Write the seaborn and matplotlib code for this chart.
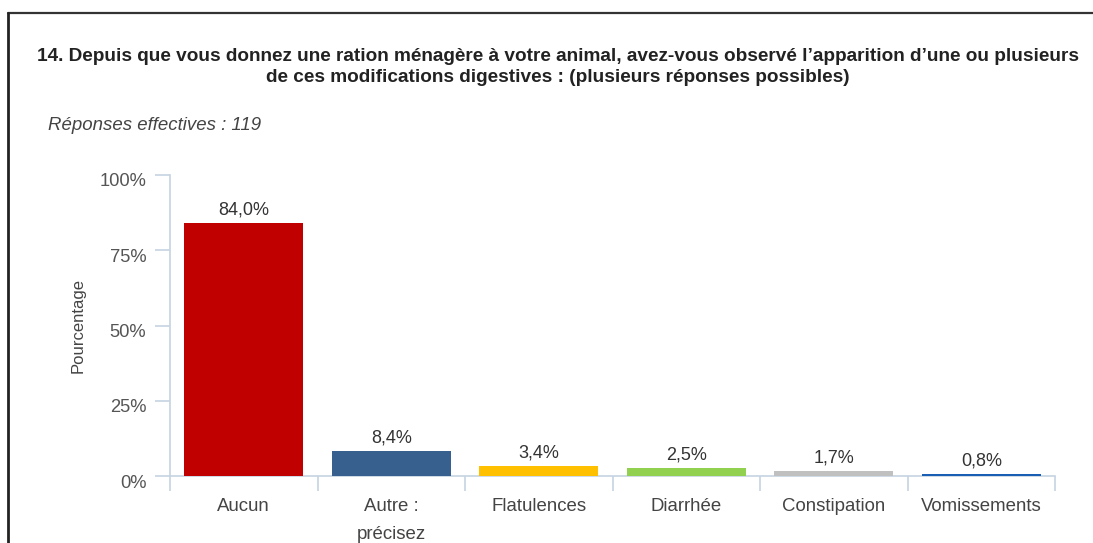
import matplotlib
matplotlib.use("Agg")
import matplotlib.pyplot as plt
from matplotlib.lines import Line2D
from matplotlib.ticker import FixedLocator, FuncFormatter
from matplotlib.transforms import ScaledTranslation
import seaborn as sns
import pandas as pd

categories = ["Aucun", "Autre :\nprécisez", "Flatulences", "Diarrhée", "Constipation", "Vomissements"]
values = [84.0, 8.4, 3.4, 2.5, 1.7, 0.8]
colors = ["#C00000", "#38608F", "#FFC000", "#92D050", "#C0C0C0", "#1A5FB4"]
y_ticks = [0, 25, 50, 75, 100]

title = ("14. Depuis que vous donnez une ration ménagère à votre animal, avez-vous observé l’apparition d’une ou plusieurs\n"
         "de ces modifications digestives : (plusieurs réponses possibles)")
subtitle = "Réponses effectives : 119"

sns.set_theme(style="white")
plt.rcParams["font.family"] = ["Liberation Sans", "DejaVu Sans"]

W, H = 1093, 543
fig = plt.figure(figsize=(W / 100, H / 100), dpi=100)
ax = fig.add_axes([170 / W, 67 / H, 885 / W, 301 / H])

df = pd.DataFrame({"cat": categories, "val": values})
sns.barplot(data=df, x="cat", y="val", hue="cat", palette=colors, legend=False,
            width=0.81, saturation=1, linewidth=0, ax=ax, zorder=3)
for p in ax.patches:
    p.set_zorder(3)

ax.set_xlim(-0.5, len(categories) - 0.5)
ax.set_ylim(0, 100)

axis_col = "#C6D3E3"
for s in ["top", "right"]:
    ax.spines[s].set_visible(False)
for s in ["left", "bottom"]:
    ax.spines[s].set_color(axis_col)
    ax.spines[s].set_linewidth(1.2)
    ax.spines[s].set_zorder(1)

ax.yaxis.set_major_locator(FixedLocator(y_ticks))
ax.yaxis.set_major_formatter(FuncFormatter(lambda v, p: f"{int(v)}%"))
ax.tick_params(axis="y", which="major", length=11, width=1.2, color=axis_col,
               direction="out", pad=6, labelsize=13.2, labelcolor="#555555", left=True)
shift = ScaledTranslation(0, -5 / 100, fig.dpi_scale_trans)
for lab in ax.get_yticklabels():
    lab.set_transform(lab.get_transform() + shift)

ax.set_xticks(range(len(categories)))
ax.set_xticklabels(categories)
ax.tick_params(axis="x", which="major", length=0, pad=16, labelsize=13.4, labelcolor="#444444")
ax.xaxis.set_minor_locator(FixedLocator([i - 0.5 for i in range(len(categories) + 1)]))
ax.tick_params(axis="x", which="minor", length=11, width=1.2, color=axis_col,
               direction="out", bottom=True)
for lab in ax.get_xticklabels():
    lab.set_linespacing(1.85)
    lab.set_verticalalignment("top")

ax.set_xlabel("")
ax.set_ylabel("Pourcentage", fontsize=12, color="#444444", labelpad=10)

for i, v in enumerate(values):
    ax.text(i, v + 1.5, f"{v:.1f}%".replace(".", ","), ha="center", va="bottom",
            fontsize=13, color="#333333")

fig.text(558 / W, 1 - 67 / H, title, ha="center", va="center", fontsize=13.7,
         fontweight="bold", color="#222222", linespacing=1.3)
fig.text(48 / W, 1 - 126 / H, subtitle, ha="left", va="center", fontsize=13.4,
         style="italic", color="#444444")

# outer frame (top and left edges)
fig.add_artist(Line2D([8 / W, 1.0], [1 - 13 / H, 1 - 13 / H], transform=fig.transFigure,
                      color="#333333", linewidth=1.6))
fig.add_artist(Line2D([8 / W, 8 / W], [1 - 13 / H, 0], transform=fig.transFigure,
                      color="#222222", linewidth=2.0))

fig.savefig("out.png", dpi=100)
